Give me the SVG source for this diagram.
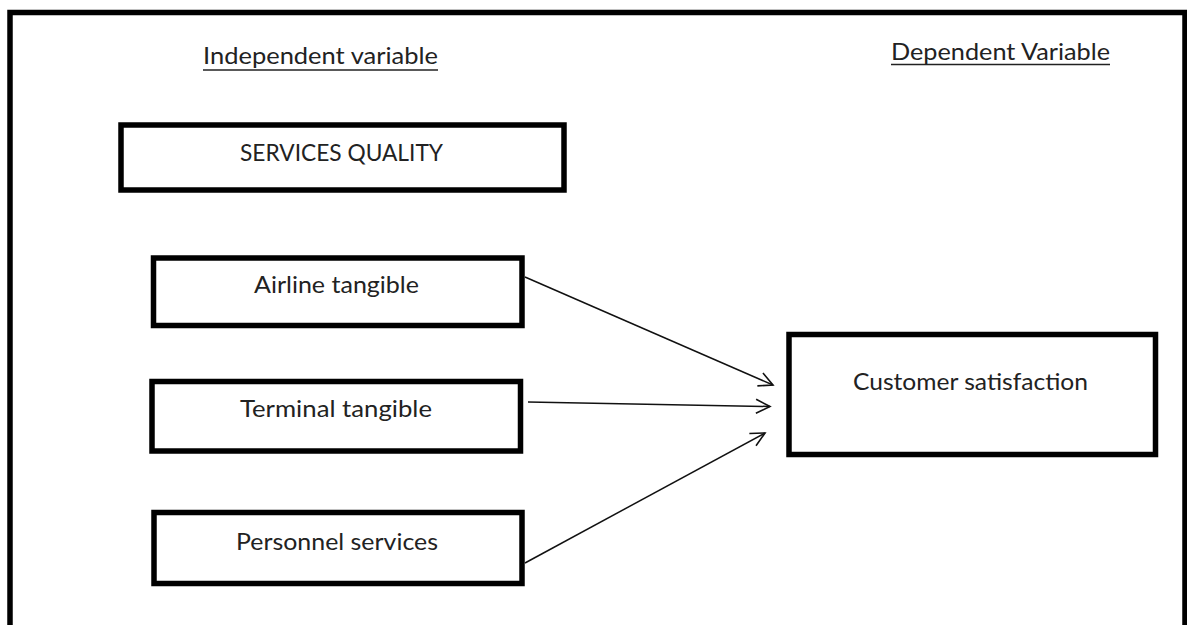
<svg xmlns="http://www.w3.org/2000/svg" width="1187" height="625" viewBox="0 0 1187 625">
<defs>
<style>
.frame{fill:none;stroke:#000;stroke-width:5.5}
.box{fill:#fff;stroke:#000;stroke-width:5.5}
.lbl{font-family:Lato,"Open Sans",sans-serif;font-size:23.5px;fill:#222}
.hd{font-family:Lato,"Open Sans",sans-serif;font-size:23.5px;fill:#222}
.ul{stroke:#222;stroke-width:1.6}
.conn{fill:none;stroke:#111;stroke-width:1.5;marker-end:url(#arr)}
</style>
<marker id="arr" markerWidth="20" markerHeight="20" refX="15" refY="8" orient="auto" markerUnits="userSpaceOnUse">
<path d="M1,1 L15,8 L1,15" fill="none" stroke="#111" stroke-width="1.6"/>
</marker>
</defs>
<rect width="1187" height="625" fill="#fff"/>
<path class="frame" d="M10,630 L10,12.5 L1185,12.5 L1185,630"/>
<g id="hdr-independent">
<text class="hd" x="203" y="63.5" textLength="235" lengthAdjust="spacingAndGlyphs">Independent variable</text>
<line class="ul" x1="203" y1="70" x2="438" y2="70"/>
</g>
<g id="hdr-dependent">
<text class="hd" x="891" y="60" textLength="219" lengthAdjust="spacingAndGlyphs">Dependent Variable</text>
<line class="ul" x1="891" y1="64.5" x2="1110" y2="64.5"/>
</g>
<g id="services-quality">
<rect class="box" x="121" y="125" width="443" height="65"/>
<text class="lbl" x="240" y="161" textLength="203" lengthAdjust="spacingAndGlyphs">SERVICES QUALITY</text>
</g>
<g id="airline-tangible">
<rect class="box" x="153.5" y="258" width="368.5" height="67.5"/>
<text class="lbl" x="254" y="293" textLength="165" lengthAdjust="spacingAndGlyphs">Airline tangible</text>
</g>
<g id="terminal-tangible">
<rect class="box" x="152" y="381.5" width="368.5" height="69.5"/>
<text class="lbl" x="240" y="417" textLength="192" lengthAdjust="spacingAndGlyphs">Terminal tangible</text>
</g>
<g id="personnel-services">
<rect class="box" x="154" y="512.5" width="368" height="71"/>
<text class="lbl" x="236" y="550" textLength="202" lengthAdjust="spacingAndGlyphs">Personnel services</text>
</g>
<g id="customer-satisfaction">
<rect class="box" x="789" y="334.5" width="366.5" height="120"/>
<text class="lbl" x="853" y="390" textLength="235" lengthAdjust="spacingAndGlyphs">Customer satisfaction</text>
</g>
<g id="connectors">
<line class="conn" x1="525" y1="277" x2="773" y2="385"/>
<line class="conn" x1="528" y1="402" x2="770" y2="406.5"/>
<line class="conn" x1="525" y1="563" x2="765" y2="433"/>
</g>
</svg>
